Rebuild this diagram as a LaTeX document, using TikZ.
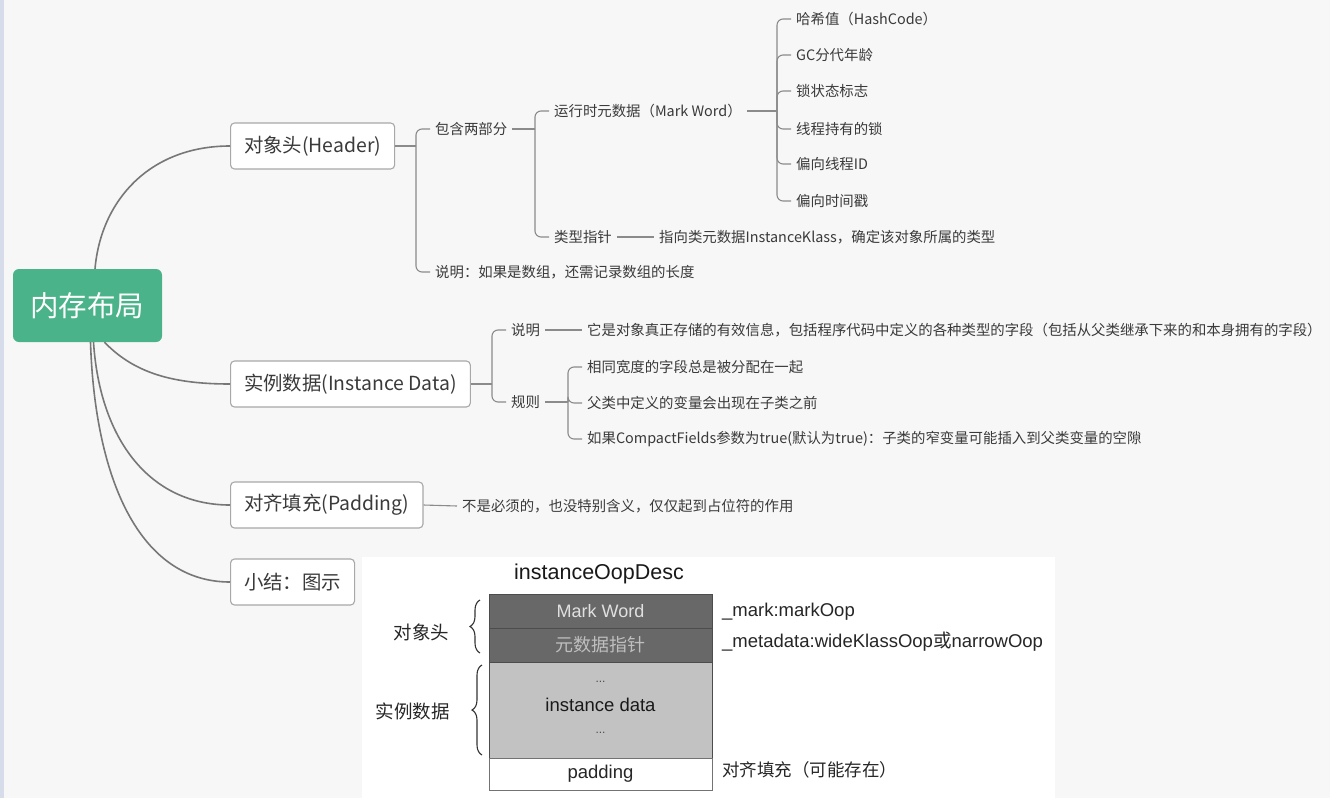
\documentclass[tikz,border=0pt]{standalone}
\usepackage{fontspec}
\setmainfont{Noto Sans CJK SC}
\newfontfamily\arial{Liberation Sans}
\newfontfamily\cjk{Noto Sans CJK SC}
\usetikzlibrary{decorations.pathreplacing}
\definecolor{bgc}{HTML}{F7F7F7}
\definecolor{edgec}{HTML}{D6DCEA}
\definecolor{rootc}{HTML}{4AB389}
\definecolor{linec}{HTML}{777777}
\definecolor{boxline}{HTML}{A8A8A8}
\definecolor{txt}{HTML}{3A3A3A}
\definecolor{darkcell}{HTML}{686868}
\definecolor{lightcell}{HTML}{C2C2C2}
\tikzset{
  rootbox/.style={draw=none, fill=rootc, rounded corners=6pt, minimum width=149pt, minimum height=73pt, text=white, font=\fontsize{28.5}{32}\selectfont, inner sep=0pt},
  lonebox/.style={draw=boxline, line width=1.1pt, fill=white, rounded corners=4pt, minimum height=46pt, inner xsep=13.5pt, anchor=west, text=txt, font=\fontsize{19.4}{23}\selectfont},
  leaf/.style={anchor=west, inner xsep=5pt, inner ysep=2pt, text=txt, font=\fontsize{14.4}{17}\selectfont},
  mainlink/.style={draw=linec, line width=1.6pt},
  link/.style={draw=linec!85, line width=1.1pt, rounded corners=6pt},
  cell/.style={draw=black!70, line width=0.8pt, minimum width=223pt, inner sep=0pt, outer sep=0pt},
  dlabel/.style={text=black!85, font=\arial\fontsize{18.5}{22}\selectfont, anchor=west, inner sep=0pt},
  clabel/.style={text=black!85, font=\cjk\fontsize{18.5}{22}\selectfont, inner sep=0pt},
  curly/.style={decorate, decoration={brace, amplitude=10pt}, draw=black!80, line width=1.1pt}
}
\begin{document}
\begin{tikzpicture}[x=1pt, y=-1pt]
\useasboundingbox (0,0) rectangle (1330,798);
\fill[bgc] (0,0) rectangle (1330,798);
\fill[edgec] (0,0) rectangle (4,798);
\fill[white] (362,557) rectangle (1055,798);

% root and first level
\node[rootbox] (root) at (87.5,305.5) {内存布局};
\node[lonebox] (hdr) at (230,146) {对象头(Header)};
\node[lonebox] (inst) at (230,384) {实例数据(Instance Data)};
\node[lonebox] (pad) at (230,505) {对齐填充(Padding)};
\node[lonebox] (sum) at (230,582) {小结：图示};

\draw[mainlink] ([xshift=7.5pt]root.north) .. controls (101,200) and (150,146) .. (hdr.west);
\draw[mainlink] ([xshift=17pt]root.south) .. controls (135,374) and (175,384) .. (inst.west);
\draw[mainlink] ([xshift=6pt]root.south) .. controls (100,440) and (150,505) .. (pad.west);
\draw[mainlink] ([xshift=3pt]root.south) .. controls (95,480) and (140,582) .. (sum.west);

% header branch
\coordinate (j1) at (416,146);
\node[leaf] (two) at (430,129) {包含两部分};
\node[leaf] (arr) at (430,272) {说明：如果是数组，还需记录数组的长度};
\draw[link] (hdr.east) -- (j1);
\draw[link] (j1) |- (two.west);
\draw[link] (j1) |- (arr.west);

\coordinate (j2) at (535,129);
\node[leaf] (mw) at (549,111) {运行时元数据（Mark Word）};
\node[leaf] (ptr) at (549,237) {类型指针};
\node[leaf] (ptrd) at (654,237) {指向类元数据InstanceKlass，确定该对象所属的类型};
\draw[link] (two.east) -- (j2);
\draw[link] (j2) |- (mw.west);
\draw[link] (j2) |- (ptr.west);
\draw[link] (ptr.east) -- (ptrd.west);

\coordinate (j3) at (777,111);
\node[leaf] (m1) at (791,19) {哈希值（HashCode）};
\node[leaf] (m2) at (791,55) {GC分代年龄};
\node[leaf] (m3) at (791,91) {锁状态标志};
\node[leaf] (m4) at (791,129) {线程持有的锁};
\node[leaf] (m5) at (791,164) {偏向线程ID};
\node[leaf] (m6) at (791,201) {偏向时间戳};
\draw[link] (mw.east) -- (j3);
\foreach \m in {m1,m2,m3,m4,m5,m6} \draw[link] (j3) |- (\m.west);

% instance data branch
\coordinate (j4) at (492,384);
\node[leaf] (inote) at (506,330) {说明};
\node[leaf] (irule) at (506,402) {规则};
\node[leaf] (inoted) at (582,330) {它是对象真正存储的有效信息，包括程序代码中定义的各种类型的字段（包括从父类继承下来的和本身拥有的字段）};
\draw[link] (inst.east) -- (j4);
\draw[link] (j4) |- (inote.west);
\draw[link] (j4) |- (irule.west);
\draw[link] (inote.east) -- (inoted.west);

\coordinate (j5) at (568,402);
\node[leaf] (r1) at (582,367) {相同宽度的字段总是被分配在一起};
\node[leaf] (r2) at (582,403) {父类中定义的变量会出现在子类之前};
\node[leaf] (r3) at (582,439) {如果CompactFields参数为true(默认为true)：子类的窄变量可能插入到父类变量的空隙};
\draw[link] (irule.east) -- (j5);
\foreach \r in {r1,r2,r3} \draw[link] (j5) |- (\r.west);

% padding branch
\node[leaf] (padd) at (457,506) {不是必须的，也没特别含义，仅仅起到占位符的作用};
\draw[link] (pad.east) -- (padd.west);

% memory layout figure
\node[text=black!90, font=\arial\fontsize{21.5}{24}\selectfont, inner sep=0pt] (oop) at (599,574) {instanceOopDesc};
\node[cell, fill=darkcell, minimum height=34pt, text=white!88!black, font=\arial\fontsize{18}{21}\selectfont] (cmw) at (600.5,611) {Mark Word};
\node[cell, fill=darkcell, minimum height=34pt, text=white!75!black, font=\cjk\fontsize{18}{21}\selectfont] (cmeta) at (600.5,645) {元数据指针};
\node[cell, fill=lightcell, minimum height=96pt] (cdata) at (600.5,710) {};
\node[cell, fill=white, draw=black!55, minimum height=32pt, text=black!85, font=\arial\fontsize{18.5}{21}\selectfont] (cpad) at (600.5,774) {padding};
\node[text=black!70, font=\arial\fontsize{12}{14}\selectfont, inner sep=0pt] (dots1) at (600.5,682) {...};
\node[text=black!90, font=\arial\fontsize{18.5}{21}\selectfont, inner sep=0pt] (idata) at (600.5,705) {instance data};
\node[text=black!70, font=\arial\fontsize{12}{14}\selectfont, inner sep=0pt] (dots2) at (600.5,733) {...};

\node[dlabel] (lmark) at (722,612) {\_mark:markOop};
\node[dlabel] (lmeta) at (722,642) {\_metadata:wideKlassOop{\cjk 或}narrowOop};
\node[dlabel, font=\cjk\fontsize{17.5}{20}\selectfont] (lpad) at (722,770) {对齐填充（可能存在）};

\coordinate (b1s) at (480,653);
\coordinate (b1e) at (480,600);
\coordinate (b2s) at (482,755);
\coordinate (b2e) at (482,665);
\draw[curly] (b1s) -- (b1e);
\draw[curly] (b2s) -- (b2e);
\node[clabel] (lhdr) at (421.5,632) {对象头};
\node[clabel] (ldata) at (412.5,711) {实例数据};
\end{tikzpicture}
\end{document}
